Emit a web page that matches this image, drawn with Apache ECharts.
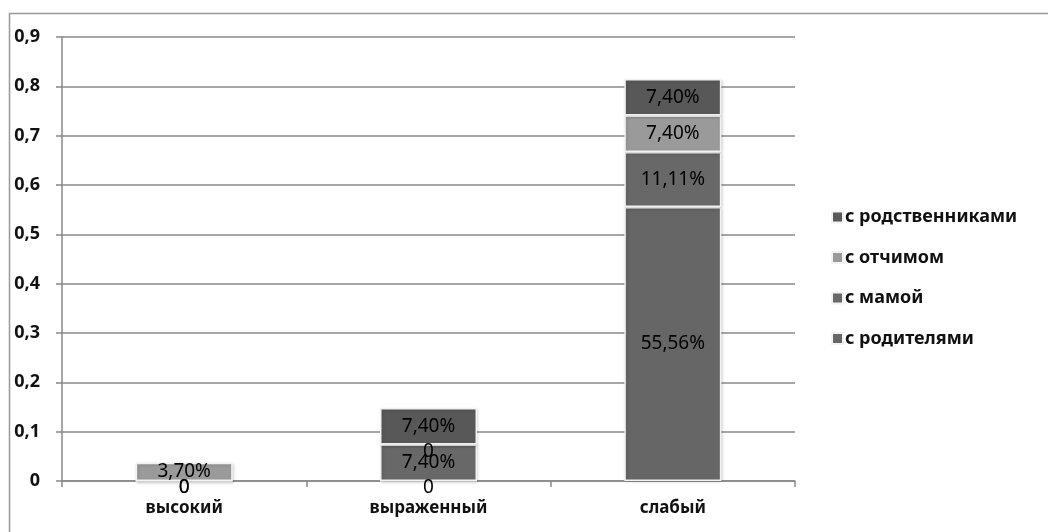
<!DOCTYPE html>
<html>
<head>
<meta charset="utf-8">
<script src="https://cdn.jsdelivr.net/npm/echarts@6/dist/echarts.min.js"></script>
<style>
  html, body { margin: 0; padding: 0; background: #fff; }
  #chart { width: 1048px; height: 532px; }
</style>
</head>
<body>
<div id="chart"></div>
<script>
// данные
const categories = ['высокий', 'выраженный', 'слабый'];
const withParents = [0, 0, 0.5556];
const withMother = [0, 0.074, 0.1111];
const withStepfather = [0.037, 0, 0.074];
const withRelatives = ['-', 0.074, 0.074];
const yTicks = [0, 0.1, 0.2, 0.3, 0.4, 0.5, 0.6, 0.7, 0.8, 0.9];

const FONT = '"Noto Sans", sans-serif';

function fmtPct(p) {
  const v = p.value;
  if (v === 0) return '0';
  return (v * 100).toFixed(2).replace('.', ',') + '%';
}

// нулевые подписи в Excel чуть ниже линии
function toItems(arr) {
  return arr.map(v => v === 0 ? { value: 0, label: { offset: [0, 7] } } : v);
}

function makeSeries(name, data, color) {
  return {
    name: name,
    type: 'bar',
    stack: 'total',
    barWidth: 97,
    data: toItems(data),
    itemStyle: {
      color: color,
      borderColor: '#f2f2f2',
      borderWidth: 1.5,
      shadowBlur: 3,
      shadowColor: 'rgba(0,0,0,0.15)',
      shadowOffsetX: 1,
      shadowOffsetY: 1
    },
    label: {
      show: true,
      position: 'inside',
      formatter: fmtPct,
      color: '#000',
      fontFamily: FONT,
      fontSize: 19
    }
  };
}

const chart = echarts.init(document.getElementById('chart'));
chart.setOption({
  backgroundColor: '#fff',
  animation: false,
  graphic: [{
    type: 'rect',
    shape: { x: 9.5, y: 13.5, width: 1100, height: 600 },
    style: { fill: 'none', stroke: '#999', lineWidth: 1.5 },
    z: -1
  }],
  grid: { left: 62, right: 253, top: 37, bottom: 51 },
  legend: {
    orient: 'vertical',
    left: 826,
    top: 203,
    itemWidth: 11,
    itemHeight: 11,
    itemGap: 22.5,
    icon: 'rect',
    data: ['с родственниками', 'с отчимом', 'с мамой', 'с родителями'],
    textStyle: { fontFamily: FONT, fontSize: 18, fontWeight: 'bold', color: '#111', padding: [0, 0, 0, -3] }
  },
  xAxis: {
    type: 'category',
    data: categories,
    axisLine: { lineStyle: { color: '#888', width: 1.5 } },
    axisTick: { show: true, length: 6, lineStyle: { color: '#888', width: 1.5 } },
    axisLabel: { margin: 19, fontFamily: FONT, fontSize: 17, fontWeight: 'bold', color: '#111' }
  },
  yAxis: {
    type: 'value',
    min: yTicks[0],
    max: yTicks[yTicks.length - 1],
    interval: 0.1,
    axisLine: { show: true, lineStyle: { color: '#888', width: 1.5 } },
    axisTick: { show: true, length: 6, lineStyle: { color: '#888', width: 1.5 } },
    splitLine: { lineStyle: { color: '#888', width: 1.5 } },
    axisLabel: {
      margin: 22,
      fontFamily: FONT, fontSize: 18, fontWeight: 'bold', color: '#111',
      formatter: v => (Math.round(v * 10) / 10).toString().replace('.', ',')
    }
  },
  series: [
    makeSeries('с родителями', withParents, '#666666'),
    makeSeries('с мамой', withMother, '#686868'),
    makeSeries('с отчимом', withStepfather, '#9a9a9a'),
    makeSeries('с родственниками', withRelatives, '#585858')
  ]
});
</script>
</body>
</html>
